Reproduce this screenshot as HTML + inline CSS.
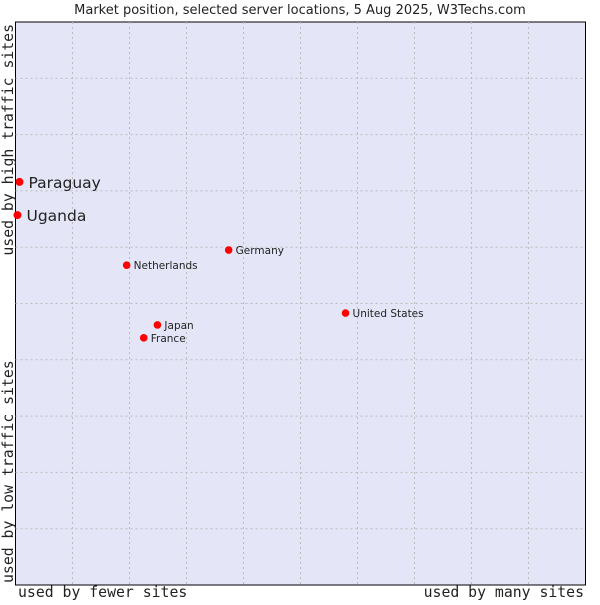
<!DOCTYPE html>
<html><head><meta charset="utf-8"><style>
body{margin:0;background:#fff;width:600px;height:600px;overflow:hidden}
text{font-family:"DejaVu Sans",sans-serif;fill:#222}
.mono{font-family:"DejaVu Sans Mono","Liberation Mono",monospace}
</style></head><body>
<svg id="chart" width="600" height="600" xmlns="http://www.w3.org/2000/svg">
<text x="300" y="14" text-anchor="middle" font-size="13">Market position, selected server locations, 5 Aug 2025, W3Techs.com</text>
<rect x="15.5" y="22" width="570" height="563" fill="#e4e6f8" stroke="#000" stroke-width="1"/>
<g id="grid"></g>
<g id="pts"></g>
<text class="mono" x="18" y="597" font-size="14.8">used by fewer sites</text>
<text class="mono" x="584" y="597" font-size="14.8" text-anchor="end">used by many sites</text>
<text class="mono" transform="translate(13,24) rotate(-90)" font-size="14.8" text-anchor="end">used by high traffic sites</text>
<text class="mono" transform="translate(13,583) rotate(-90)" font-size="14.8">used by low traffic sites</text>
</svg>
<script>
const names=["Paraguay","Uganda","Germany","Netherlands","United States","Japan","France"];
const xVals=[0.7,0.35,37.4,19.5,57.9,24.9,22.5];
const yVals=[71.6,65.7,59.5,56.8,48.3,46.2,43.9];
const big=[true,true,false,false,false,false,false];
const NS="http://www.w3.org/2000/svg";
const X0=15.5,W=570,Y0=22,H=563;
const sx=v=>X0+v/100*W, sy=v=>Y0+H-v/100*H;
const grid=document.getElementById('grid');
for(let i=1;i<10;i++){
  const l=document.createElementNS(NS,'line');
  
  
  const x=sx(i*10);
  l.setAttribute('x1',x);l.setAttribute('x2',x);l.setAttribute('y1',Y0);l.setAttribute('y2',Y0+H);
  l.setAttribute('stroke','#bbb');l.setAttribute('stroke-dasharray','2,3');
  grid.appendChild(l);
  const h=document.createElementNS(NS,'line');
  
  
  const y=sy(i*10);
  h.setAttribute('x1',X0);h.setAttribute('x2',X0+W);h.setAttribute('y1',y);h.setAttribute('y2',y);
  h.setAttribute('stroke','#bbb');h.setAttribute('stroke-dasharray','2,3');
  grid.appendChild(h);
}
const pts=document.getElementById('pts');
names.forEach((n,i)=>{
  const x=sx(xVals[i]),y=sy(yVals[i]);
  const c=document.createElementNS(NS,'circle');
  
  
  c.setAttribute('cx',x);c.setAttribute('cy',y);c.setAttribute('r',big[i]?4:3.8);c.setAttribute('fill','#f00');
  pts.appendChild(c);
  const t=document.createElementNS(NS,'text');
  
  
  t.setAttribute('x',x+(big[i]?9:7));t.setAttribute('y',y+(big[i]?6:4));
  t.setAttribute('font-size',big[i]?15.5:10.5);
  t.textContent=n;
  pts.appendChild(t);
});
</script>
</body></html>
